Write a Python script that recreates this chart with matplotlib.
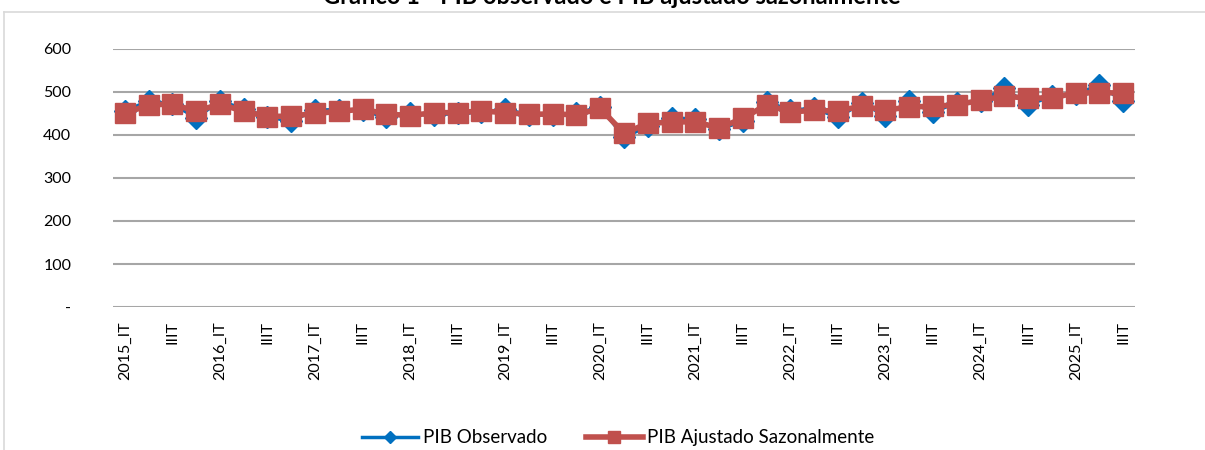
import matplotlib.pyplot as plt
from matplotlib.lines import Line2D

plt.rcParams['font.family'] = ['Lato', 'DejaVu Sans']

# quarters 2015 IT .. 2025 IIIT
years = list(range(2015, 2026))
quarters = ['IT', 'IIT', 'IIIT', 'IVT']
labels = []
for y in years:
    for q in quarters:
        labels.append(str(y) + '_' + q if q == 'IT' else q)
labels = labels[:43]

observado = [456, 479, 472, 440, 479, 461, 442, 432, 458, 459,
             457, 441, 452, 447, 450, 453, 460, 447, 447, 450,
             466, 395, 420, 440, 437, 413, 432, 477, 458, 462,
             441, 474, 445, 478, 453, 475, 478, 509, 470, 490,
             495, 516, 479]
ajustado = [450, 470, 472, 455, 472, 455, 443, 444, 450, 455,
            460, 449, 445, 452, 452, 456, 452, 448, 449, 447,
            462, 404, 427, 430, 431, 416, 439, 470, 454, 457,
            456, 467, 458, 465, 467, 470, 481, 490, 486, 486,
            498, 498, 498]

blue = '#0070C0'
red = '#C0504D'

fig = plt.figure(figsize=(12.05, 4.5), dpi=100)
ax = fig.add_axes([113 / 1205, 1 - 307 / 450, 1022 / 1205, 258 / 450])

x = list(range(len(labels)))
ax.plot(x, observado, color=blue, lw=2.5, marker='D', ms=11,
        label='PIB Observado', zorder=3)
ax.plot(x, ajustado, color=red, lw=4, marker='s', ms=14,
        label='PIB Ajustado Sazonalmente', zorder=4)

ax.set_xlim(-0.5, len(labels) - 0.5)
ax.set_ylim(0, 600)
ax.set_yticks(range(0, 601, 100))
ax.set_yticklabels(['-'] + [str(v) for v in range(100, 601, 100)])
ax.set_xticks(x[::2])
ax.set_xticklabels(labels[::2], rotation=90, va='top', ha='center')
ax.grid(axis='y', color='#A6A6A6', lw=1.5)
ax.set_axisbelow(True)
for s in ax.spines.values():
    s.set_visible(False)
ax.tick_params(length=0, labelsize=11.5, colors='black')
ax.tick_params(axis='y', pad=30)
ax.tick_params(axis='x', pad=10)
for t in ax.get_yticklabels():
    t.set_horizontalalignment('right')

# chart frame
fig.add_artist(Line2D([4 / 1205, 1.01], [1 - 12 / 450, 1 - 12 / 450],
                      color='#D9D9D9', lw=1.2))
fig.add_artist(Line2D([4 / 1205, 4 / 1205], [1 - 12 / 450, -0.01],
                      color='#D9D9D9', lw=1.2))

# title is partly cut at the top edge, as in the source
fig.text(0.508, 1.008, 'Gráfico 1 - PIB observado e PIB ajustado sazonalmente',
         ha='center', va='center', fontsize=17, fontweight='bold')

fig.legend(loc='center', bbox_to_anchor=(0.513, 0.027), ncol=2, frameon=False,
           fontsize=13.5, markerscale=0.6, handlelength=3.0, columnspacing=2.1,
           handletextpad=0.25)

fig.savefig('out.png', dpi=100)
